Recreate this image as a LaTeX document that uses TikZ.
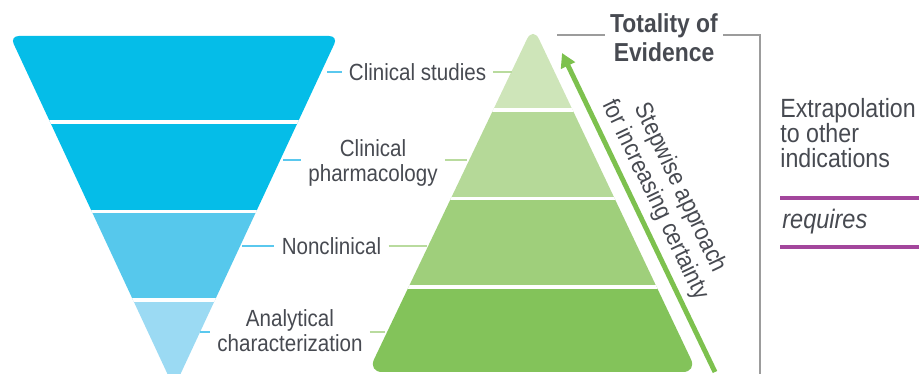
\documentclass[tikz,border=0pt]{standalone}
\usepackage{fontspec}
\setmainfont{Liberation Sans}[FakeStretch=0.88]
\usetikzlibrary{positioning, arrows.meta, calc}

\definecolor{funnelA}{HTML}{05BDE8}
\definecolor{funnelB}{HTML}{56C8EC}
\definecolor{funnelC}{HTML}{9BDAF3}
\definecolor{pyrA}{HTML}{CEE5B9}
\definecolor{pyrB}{HTML}{B5D998}
\definecolor{pyrC}{HTML}{9FCF7B}
\definecolor{pyrD}{HTML}{83C35A}
\definecolor{textgray}{HTML}{474A51}
\definecolor{bracketgray}{HTML}{9C9C9C}
\definecolor{rulepurple}{HTML}{A3469C}
\definecolor{arrowgreen}{HTML}{7DC14E}
\definecolor{cyanline}{HTML}{5AC8EE}
\definecolor{greenline}{HTML}{B9DB9E}

\begin{document}
\begin{tikzpicture}[
    tierlabel/.style={font=\fontsize{13.3}{14.2}\selectfont, text=textgray, align=center, inner xsep=0.14cm, inner ysep=0pt},
    cyanlink/.style={cyanline, line width=1.2pt},
    greenlink/.style={greenline, line width=1.2pt},
    gap/.style={white, line width=2.2pt},
    arrow/.style={-{Triangle[length=2.8mm, width=3mm]}, line width=2.8pt, arrowgreen}
]
    \useasboundingbox (0, 0) rectangle (18.38, 7.48);

    % === Funnel (left) ===
    \coordinate (ftl) at (0.2, 6.76);
    \coordinate (ftr) at (6.76, 6.76);
    \coordinate (fap) at (3.48, -0.28);
    \begin{scope}
        \clip[rounded corners=5pt] (ftl) -- (ftr) -- (fap) -- cycle;
        \fill[funnelA] (0, 7) rectangle (7, 3.25);
        \fill[funnelB] (0, 3.25) rectangle (7, 1.48);
        \fill[funnelC] (0, 1.48) rectangle (7, -0.5);
        \foreach \y in {5.04, 3.25, 1.48}
            \draw[gap] (0, \y) -- (7, \y);
    \end{scope}

    % === Pyramid (middle) ===
    \coordinate (pap) at (10.66, 6.95);
    \coordinate (pbl) at (7.36, 0.04);
    \coordinate (pbr) at (13.94, 0.04);
    \begin{scope}
        \clip[rounded corners=8pt] (pbl) -- (pbr) -- (pap) -- cycle;
        \fill[pyrA] (7, 7.2) rectangle (14.2, 5.28);
        \fill[pyrB] (7, 5.28) rectangle (14.2, 3.51);
        \fill[pyrC] (7, 3.51) rectangle (14.2, 1.74);
        \fill[pyrD] (7, 1.74) rectangle (14.2, -0.2);
        \foreach \y in {5.28, 3.51, 1.74}
            \draw[gap] (7, \y) -- (14.2, \y);
    \end{scope}

    % Tier labels
    \node[tierlabel] (cs) at (8.35, 6.04) {Clinical studies};
    \node[tierlabel] (cp) at (7.46, 4.23) {Clinical\\pharmacology};
    \node[tierlabel] (nc) at (6.63, 2.56) {Nonclinical};
    \node[tierlabel] (ac) at (5.8, 0.86) {Analytical\\characterization};

    % Edge points for the links
    \coordinate (fe1) at (6.54, 6.04);
    \coordinate (fe2) at (5.66, 4.28);
    \coordinate (fe3) at (4.84, 2.56);
    \coordinate (fe4) at (4.0, 0.84);
    \coordinate (pe1) at (10.24, 6.04);
    \coordinate (pe2) at (9.34, 4.28);
    \coordinate (pe3) at (8.54, 2.56);
    \coordinate (pe4) at (7.7, 0.84);

    \draw[cyanlink] (fe1) -- (fe1 -| cs.west);
    \draw[cyanlink] (fe2) -- (fe2 -| cp.west);
    \draw[cyanlink] (fe3) -- (fe3 -| nc.west);
    \draw[cyanlink] (fe4) -- (fe4 -| ac.west);
    \draw[greenlink] (pe1 -| cs.east) -- (pe1);
    \draw[greenlink] (pe2 -| cp.east) -- (pe2);
    \draw[greenlink] (pe3 -| nc.east) -- (pe3);
    \draw[greenlink] (pe4 -| ac.east) -- (pe4);

    % === Stepwise arrow ===
    \coordinate (arrS) at (14.3, 0.04);
    \coordinate (arrE) at (11.24, 6.42);
    \draw[arrow] (arrS) -- (arrE);
    \node[rotate=-64.4, align=center, text=textgray, font=\fontsize{14}{15.6}\selectfont] (step) at (13.35, 3.6)
        {Stepwise approach\\for increasing certainty};

    % === Totality bracket ===
    \node[align=center, text=textgray, inner sep=0pt, font=\bfseries\fontsize{14.8}{16.5}\selectfont] (tot) at (13.28, 6.72)
        {Totality of\\Evidence};
    \coordinate (brL) at (11.14, 6.78);
    \coordinate (brR) at (15.2, 6.78);
    \coordinate (brB) at (15.2, -0.2);
    \draw[bracketgray, line width=1.1pt] (brL) -- ($(brL -| tot.west) + (-0.1, 0)$);
    \draw[bracketgray, line width=1.1pt] ($(brR -| tot.east) + (0.1, 0)$) -- (brR) -- (brB);

    % === Extrapolation (right) ===
    \node[anchor=north west, align=left, text=textgray, inner sep=0pt, font=\fontsize{15}{14.2}\selectfont] (ext) at (15.6, 5.52)
        {Extrapolation\\to other\\indications};
    \draw[rulepurple, line width=2.3pt] (15.6, 3.52) -- (18.5, 3.52);
    \node[anchor=west, text=textgray, inner sep=0pt, font=\itshape\fontsize{15.2}{16}\selectfont] (req) at (15.64, 3.04) {requires};
    \draw[rulepurple, line width=2.3pt] (15.6, 2.54) -- (18.5, 2.54);
\end{tikzpicture}
\end{document}
